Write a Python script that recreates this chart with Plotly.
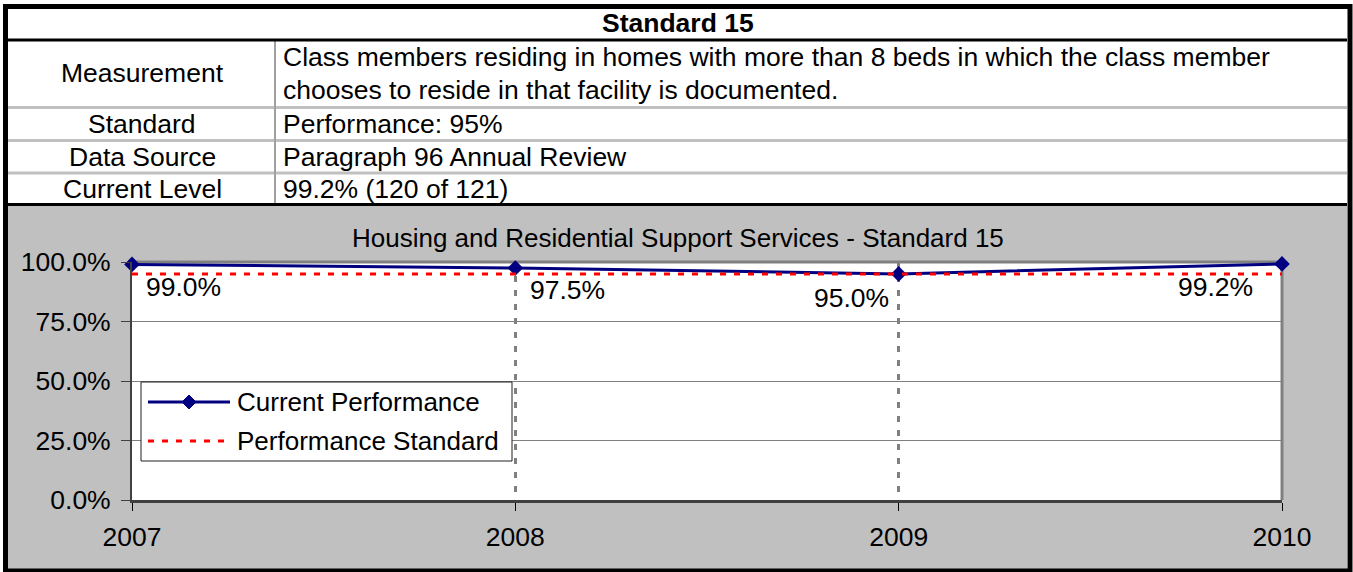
import plotly.graph_objects as go

# ---- data -------------------------------------------------------------
years = ["2007", "2008", "2009", "2010"]
current_performance = [0.990, 0.975, 0.950, 0.992]
performance_standard = [0.95, 0.95, 0.95, 0.95]
y_ticks = [0.0, 0.25, 0.50, 0.75, 1.00]
series_names = ["Current Performance", "Performance Standard"]

chart_title = "Housing and Residential Support Services - Standard 15"
table_title = "Standard 15"
row_labels = ["Measurement", "Standard", "Data Source", "Current Level"]
row_values = [
    ["Class members residing in homes with more than 8 beds in which the class member",
     "chooses to reside in that facility is documented."],
    ["Performance: 95%"],
    ["Paragraph 96 Annual Review"],
    ["99.2% (120 of 121)"],
]

# ---- layout geometry (pixels) -----------------------------------------
W, H = 1353, 572
L, R, T, B = 132, 1282, 262, 500          # plot area
FONT = "Liberation Sans, Arial, sans-serif"
FS = 26.5
NAVY, RED = "#000080", "#FF0000"


def px(x):
    return (x - L) / (R - L)


def py(y):
    return (B - y) / (B - T)


fig = go.Figure()

fig.add_trace(go.Scatter(
    x=years, y=current_performance, name=series_names[0],
    mode="lines+markers", cliponaxis=False, showlegend=False,
    line=dict(color=NAVY, width=3),
    marker=dict(symbol="diamond", size=12, color=NAVY),
))
fig.add_trace(go.Scatter(
    x=years, y=performance_standard, name=series_names[1],
    mode="lines", cliponaxis=False, showlegend=False,
    line=dict(color=RED, width=3, dash="6px,8px"),
))

shapes = []


def rect(x0, y0, x1, y1, fill, line_color=None, lw=0, layer="below"):
    shapes.append(dict(type="rect", xref="paper", yref="paper",
                       x0=px(x0), x1=px(x1), y0=py(y1), y1=py(y0),
                       fillcolor=fill, layer=layer,
                       line=dict(color=line_color or fill, width=lw)))


def hline(x0, x1, y, color, lw, dash="solid", layer="below"):
    shapes.append(dict(type="line", xref="paper", yref="paper",
                       x0=px(x0), x1=px(x1), y0=py(y), y1=py(y), layer=layer,
                       line=dict(color=color, width=lw, dash=dash)))


def vline(x, y0, y1, color, lw, dash="solid", layer="below"):
    shapes.append(dict(type="line", xref="paper", yref="paper",
                       x0=px(x), x1=px(x), y0=py(y0), y1=py(y1), layer=layer,
                       line=dict(color=color, width=lw, dash=dash)))


# chart panel and white plotting area
rect(8, 205, 1347, 570, "#C0C0C0")
rect(L, T, R, B, "#FFFFFF")
hline(L, R, T, "#808080", 3)
vline(R, T, B, "#808080", 3)

# table rules
for y in (107.5, 140.5, 173):
    hline(8, 1347, y, "#C0C0C0", 3)
vline(275, 41, 204, "#A0A0A0", 2)
hline(8, 1347, 40, "#000000", 3, layer="above")
hline(8, 1347, 204.5, "#000000", 3, layer="above")

# outer frame
shapes.append(dict(type="rect", xref="paper", yref="paper",
                   x0=px(5.5), x1=px(1350), y0=py(571), y1=py(6.5),
                   layer="above", fillcolor="rgba(0,0,0,0)",
                   line=dict(color="#000000", width=5)))

# legend box with its symbols
LG_X0, LG_X1, LG_Y0, LG_Y1 = 141, 512, 382, 461
rect(LG_X0, LG_Y0, LG_X1, LG_Y1, "#FFFFFF", "#202020", 1, layer="above")
legend_rows = [402, 441]
hline(148, 230, legend_rows[0], NAVY, 3, layer="above")
cx, cy, d = 189, legend_rows[0], 7
shapes.append(dict(type="path", xref="paper", yref="paper", layer="above",
                   path=(f"M{px(cx)},{py(cy - d)} L{px(cx + d)},{py(cy)} "
                         f"L{px(cx)},{py(cy + d)} L{px(cx - d)},{py(cy)} Z"),
                   fillcolor=NAVY, line=dict(color=NAVY, width=1)))
hline(148, 230, legend_rows[1], RED, 3, dash="6px,8px", layer="above")

annotations = []


def text(x, y, s, size=FS, anchor="center", bold=False):
    annotations.append(dict(xref="paper", yref="paper", x=px(x), y=py(y),
                            xanchor=anchor, yanchor="middle", showarrow=False,
                            text=f"<b>{s}</b>" if bold else s,
                            font=dict(family=FONT, size=size, color="#000000")))


for name, y in zip(series_names, legend_rows):
    text(235, y, name, size=26, anchor="left")

# table text
text(678, 22.5, table_title, bold=True)
label_rows = [73, 124, 156.5, 189]
value_rows = [[57, 90], [124], [156.5], [189]]
for lab, ly, vals, vys in zip(row_labels, label_rows, row_values, value_rows):
    text(142, ly, lab)
    for v, vy in zip(vals, vys):
        text(281, vy, v, anchor="left")

# chart title
text(678, 238, chart_title, size=26)

# value labels next to the line points (x given as category index)
label_anchor = ["left", "left", "right", "right"]
label_dx = [12, 13, -8, -27]
label_dy = [-23, -22, -24, -23]
for i, (v, a, dx, dy) in enumerate(zip(current_performance, label_anchor, label_dx, label_dy)):
    annotations.append(dict(x=i, y=v, xref="x", yref="y", text=f"{v:.1%}",
                            showarrow=False, xanchor=a, yanchor="middle",
                            xshift=dx, yshift=dy,
                            font=dict(family=FONT, size=FS, color="#000000")))

fig.update_layout(
    width=W, height=H,
    margin=dict(l=L, r=W - R, t=T, b=H - B, pad=0),
    paper_bgcolor="#FFFFFF", plot_bgcolor="#FFFFFF",
    font=dict(family=FONT, size=FS, color="#000000"),
    showlegend=False,
    shapes=shapes, annotations=annotations,
    xaxis=dict(
        type="category", range=[0, len(years) - 1],
        showgrid=True, gridcolor="#808080", gridwidth=2.5, griddash="6px,8px",
        showline=True, linecolor="#404040", linewidth=3,
        ticks="outside", ticklen=8, tickwidth=1, tickcolor="#000000",
        ticklabelstandoff=3,
        tickfont=dict(family=FONT, size=FS, color="#000000"),
        zeroline=False, fixedrange=True,
    ),
    yaxis=dict(
        range=[0, 1], tickvals=y_ticks, tickformat=".1%",
        showgrid=True, gridcolor="#808080", gridwidth=1,
        showline=True, linecolor="#404040", linewidth=2,
        ticks="outside", ticklen=9, tickwidth=1, tickcolor="#404040",
        ticklabelstandoff=5,
        tickfont=dict(family=FONT, size=FS, color="#000000"),
        zeroline=False, fixedrange=True,
    ),
)

fig.write_html("out.html", config={"displayModeBar": False})
